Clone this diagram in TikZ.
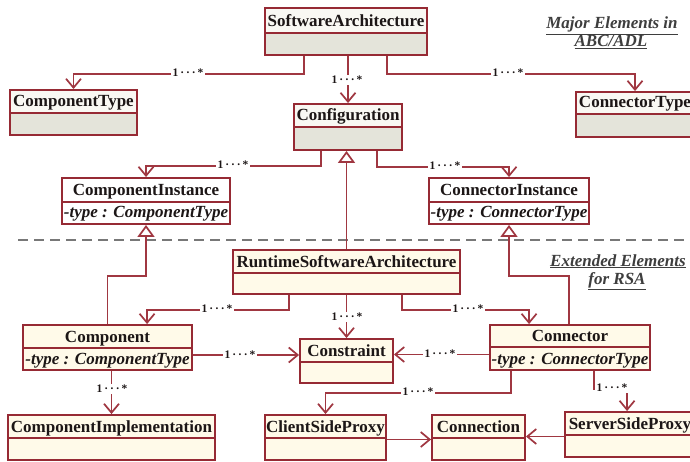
\documentclass[tikz,border=0pt]{standalone}
\usepackage{fontspec}
\setmainfont{Liberation Serif}
\usetikzlibrary{arrows.meta,calc,fit}

\definecolor{umlred}{RGB}{150,42,52}
\definecolor{linered}{RGB}{160,55,65}
\definecolor{inkdark}{RGB}{28,22,22}
\definecolor{notegray}{RGB}{62,62,62}
\definecolor{dashgray}{RGB}{120,120,120}
\definecolor{typehead}{RGB}{249,248,243}
\definecolor{typebody}{RGB}{228,228,218}
\definecolor{creamfill}{RGB}{255,250,233}

\tikzset{
  typehead/.style={fill=typehead},
  typebody/.style={fill=typebody},
  insthead/.style={fill=white},
  instbody/.style={fill=white},
  rthead/.style={fill=creamfill},
  rtbody/.style={fill=creamfill},
  boxframe/.style={draw=umlred, line width=1.9pt, inner sep=0pt},
  boxdiv/.style={draw=umlred, line width=1.4pt},
  titletext/.style={font=\fontsize{17}{17}\selectfont\bfseries, text=inkdark, inner sep=0pt, anchor=base},
  attrtext/.style={font=\fontsize{17}{17}\selectfont\bfseries\itshape, text=inkdark, inner sep=0pt, anchor=base},
  mult/.style={font=\fontsize{11.5}{11.5}\selectfont\bfseries, text=inkdark, fill=white, inner sep=1.2pt},
  notetext/.style={font=\fontsize{17}{17}\selectfont\bfseries\itshape, text=notegray, inner sep=0pt, anchor=base},
  assoc/.style={draw=linered, line width=1.7pt, -{Straight Barb[length=9pt,width=15pt]}},
  gen/.style={draw=linered, line width=1.7pt, -{Triangle[length=12pt,width=17pt,fill=white]}},
}

% #1 name, #2 left, #3 top, #4 right, #5 divider, #6 bottom, #7 title, #8 fill kind
\newcommand\umlclass[8]{%
  \fill[#8head] (#2,#3) rectangle (#4,#5);
  \fill[#8body] (#2,#5) rectangle (#4,#6);
  \draw[boxdiv] (#2,#5) -- (#4,#5);
  \node[boxframe, fit={(#2,#3) (#4,#6)}] (#1) {};
  \node[titletext] (#1-title) at ($(#2,#5)!0.5!(#4,#5)+(0,-6)$) {#7};
}
% attribute line in the lower compartment: #1 name, #2 left, #3 right, #4 bottom, #5 text
\newcommand\umlattr[5]{%
  \node[attrtext] (#1-attr) at ($(#2,#4)!0.5!(#3,#4)+(0,-6)$) {#5};
}

\begin{document}
\begin{tikzpicture}[x=1pt,y=-1pt]
\useasboundingbox (0,0) rectangle (690,462);
\clip (0,0) rectangle (690,462);
\fill[white] (0,0) rectangle (690,462);

% separator between the two groups of elements
\draw[dashgray, line width=2pt, dash pattern=on 10pt off 6pt] (18,240) -- (690,240);

% ---- core ABC/ADL elements
\umlclass{sa}{265}{8}{427}{33}{55}{SoftwareArchitecture}{type}
\umlclass{ct}{10}{90}{137}{113}{135}{ComponentType}{type}
\umlclass{cnt}{576}{92}{694}{114}{137}{ConnectorType}{type}
\umlclass{cfg}{294}{104}{402}{127}{150}{Configuration}{type}
\umlclass{ci}{62}{178}{230}{202}{224}{ComponentInstance}{inst}
\umlattr{ci}{62}{230}{224}{-type : ComponentType}
\umlclass{cni}{429}{178}{589}{202}{224}{ConnectorInstance}{inst}
\umlattr{cni}{429}{589}{224}{-type : ConnectorType}

% ---- runtime elements
\umlclass{rsa}{233}{250}{460}{273}{294}{RuntimeSoftwareArchitecture}{rt}
\umlclass{comp}{23}{325}{192}{348}{370}{Component}{rt}
\umlattr{comp}{23}{192}{370}{-type : ComponentType}
\umlclass{cons}{300}{339}{393}{362}{383}{Constraint}{rt}
\umlclass{conn}{490}{325}{650}{347}{370}{Connector}{rt}
\umlattr{conn}{490}{650}{370}{-type : ConnectorType}
\umlclass{cimpl}{8}{415}{215}{438}{460}{ComponentImplementation}{rt}
\umlclass{csp}{265}{415}{386}{438}{460}{ClientSideProxy}{rt}
\umlclass{cxn}{432}{415}{525}{438}{460}{Connection}{rt}
\umlclass{ssp}{565}{412}{695}{435}{457}{ServerSideProxy}{rt}

% ---- generalisations
\draw[gen] (rsa.north) -- (rsa.north |- cfg.south);
\draw[gen] (comp.north) -- ++(0,-48) -| (ci.south);
\draw[gen] ([xshift=80pt]conn.north west) -- ++(0,-48) -| (cni.south);

% ---- associations
\draw[assoc] ([xshift=40pt]sa.south west) -- ++(0,18) -| (ct.north);
\draw[assoc] (cfg.north |- sa.south) -- (cfg.north);
\draw[assoc] ([xshift=123pt]sa.south west) -- ++(0,18) -| (cnt.north);
\draw[assoc] ([xshift=28pt]cfg.south west) -- ++(0,15) -| (ci.north);
\draw[assoc] ([xshift=84pt]cfg.south west) -- ++(0,16) -| (cni.north);
\draw[assoc] ([xshift=57pt]rsa.south west) -- ++(0,15) -| ([xshift=125pt]comp.north west);
\draw[assoc] (rsa.south) -- (cons.north);
\draw[assoc] ([xshift=170pt]rsa.south west) -- ++(0,15) -| ([xshift=40pt]conn.north west);
\coordinate (compout) at ([yshift=-7.5pt]comp.east);
\draw[assoc] (compout) -- (compout -| cons.west);
\coordinate (connout) at ([yshift=-7pt]conn.west);
\draw[assoc] (connout) -- (connout -| cons.east);
\draw[assoc] (cimpl.north |- comp.south) -- (cimpl.north);
\draw[assoc] ([xshift=22pt]conn.south west) -- ++(0,22) -| (csp.north);
\draw[assoc] ([xshift=105pt]conn.south west) -- ++(0,18) -| ([xshift=63pt]ssp.north west);
\coordinate (cspout) at ([yshift=-2pt]csp.east);
\draw[assoc] (cspout) -- (cspout -| cxn.west);
\coordinate (sspout) at ([yshift=-2pt]ssp.west);
\draw[assoc] (sspout) -- (sspout -| cxn.east);

% ---- multiplicities
\node[mult] (m1) at (188,73) {1\,·\,·\,·\,*};
\node[mult] (m2) at (347,80) {1\,·\,·\,·\,*};
\node[mult] (m3) at (508,73) {1\,·\,·\,·\,*};
\node[mult] (m4) at (233,165) {1\,·\,·\,·\,*};
\node[mult] (m5) at (445,166) {1\,·\,·\,·\,*};
\node[mult] (m6) at (217,309) {1\,·\,·\,·\,*};
\node[mult] (m7) at (347,317) {1\,·\,·\,·\,*};
\node[mult] (m8) at (468,309) {1\,·\,·\,·\,*};
\node[mult] (m9) at (240,355) {1\,·\,·\,·\,*};
\node[mult] (m10) at (440,354) {1\,·\,·\,·\,*};
\node[mult] (m11) at (112,389) {1\,·\,·\,·\,*};
\node[mult] (m12) at (418,392) {1\,·\,·\,·\,*};
\node[mult] (m13) at (612,388) {1\,·\,·\,·\,*};

% ---- group captions
\node[notetext] (cap1) at (612,29) {\underline{Major Elements in}};
\node[notetext] (cap2) at (611,47) {\underline{ABC/ADL}};
\node[notetext] (cap3) at (618,266) {\underline{Extended Elements}};
\node[notetext] (cap4) at (617,284) {\underline{for RSA}};
\end{tikzpicture}
\end{document}
